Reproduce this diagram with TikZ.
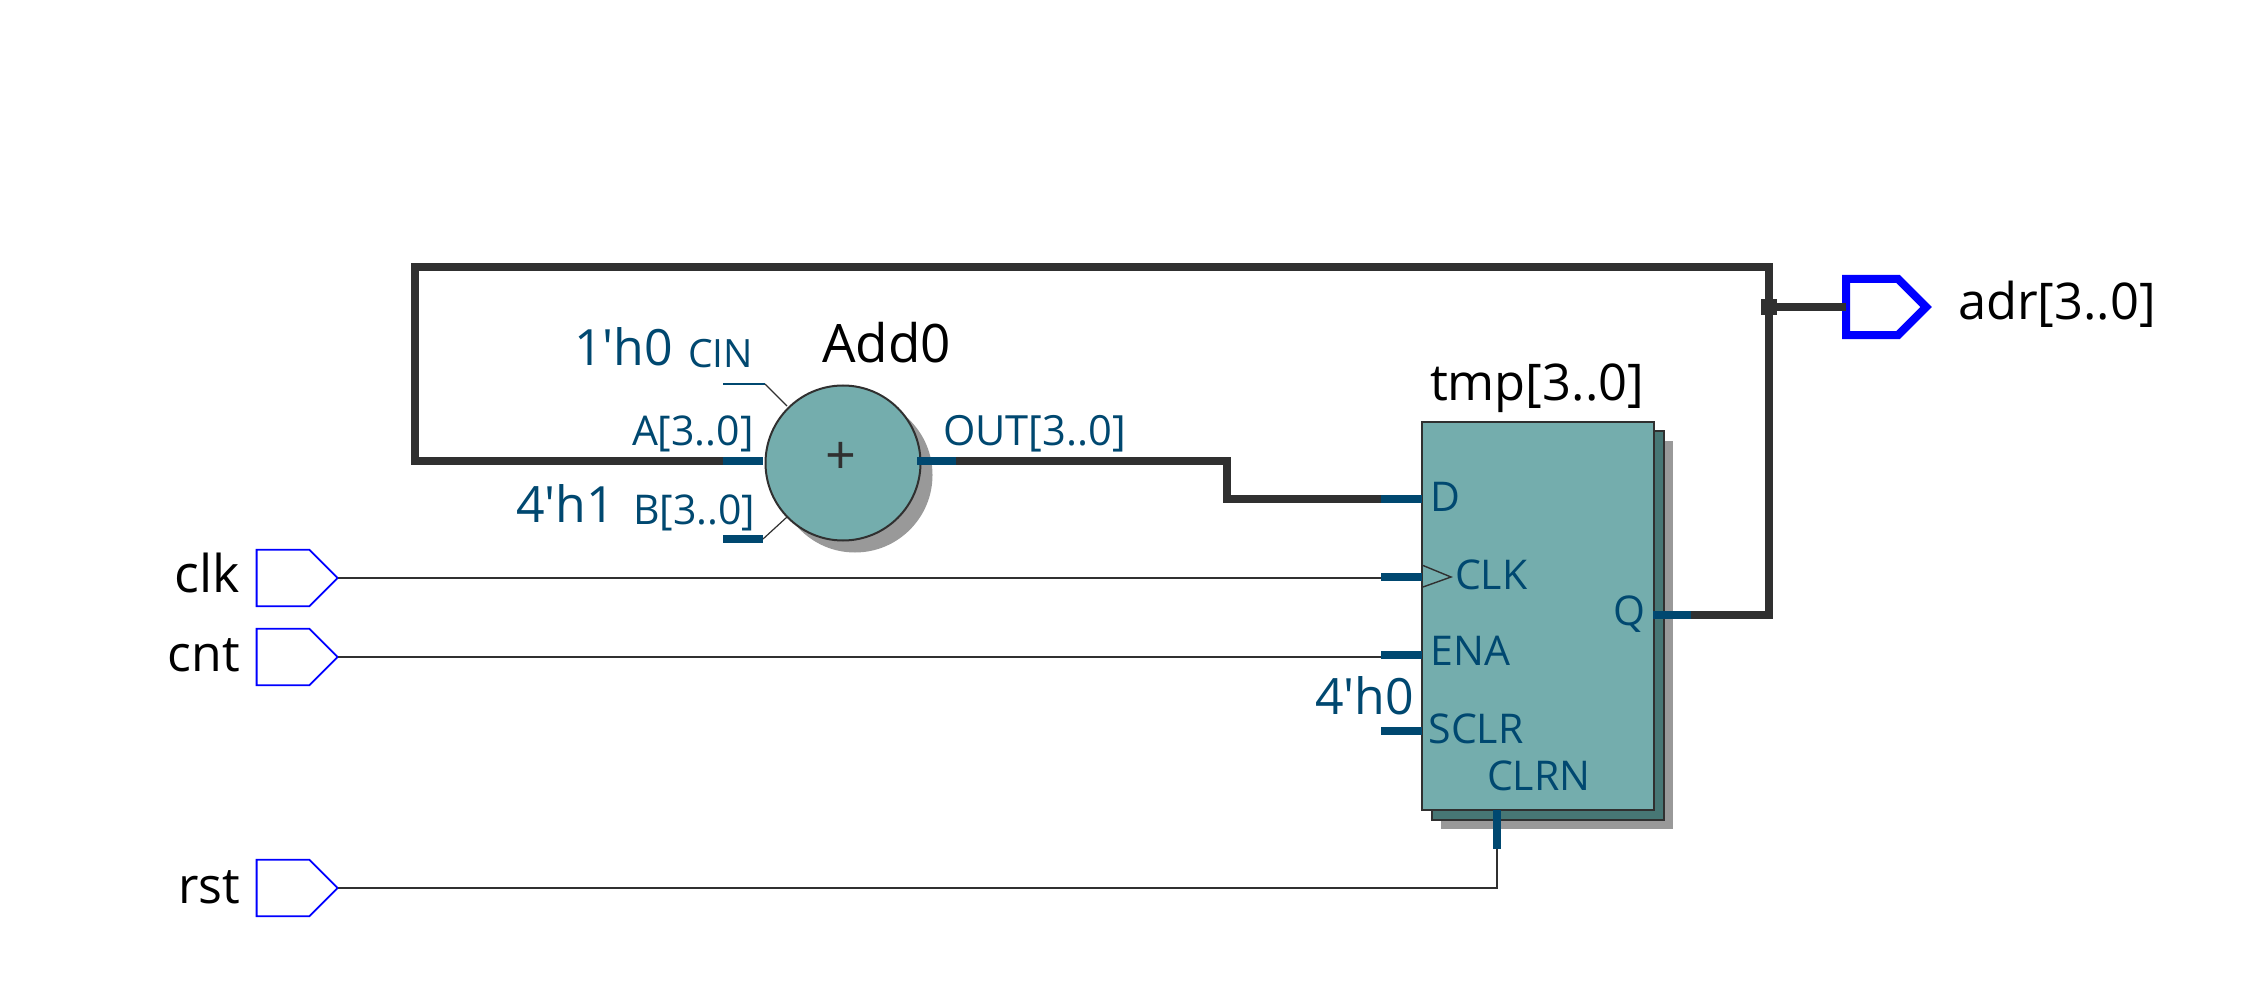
\documentclass[tikz,border=0pt]{standalone}
\usepackage{fontspec}
\setmainfont{Open Sans}
\usetikzlibrary{shapes.symbols,calc}
\definecolor{wirec}{HTML}{303030}
\definecolor{stubc}{HTML}{004870}
\definecolor{tealc}{HTML}{74ADAD}
\definecolor{tealb}{HTML}{477775}
\definecolor{shadc}{HTML}{999999}
\definecolor{pinc}{HTML}{0000FF}
\tikzset{
  x=0.5pt,y=-0.5pt,
  bigwire/.style={draw=wirec,line width=4pt,line join=miter},
  thinwire/.style={draw=wirec,line width=1pt},
  stub/.style={draw=stubc,line width=4pt},
  thinstub/.style={draw=stubc,line width=1pt},
  lbl/.style={inner sep=0pt,outer sep=0pt,anchor=base west,font=\fontsize{25pt}{30pt}\selectfont,text=black},
  constlbl/.style={lbl,text=stubc},
  portlbl/.style={lbl,text=stubc,font=\fontsize{20.5pt}{24pt}\selectfont},
  portshape/.style={shape=signal,signal to=east,signal from=nowhere,signal pointer angle=90,
    draw=pinc,fill=white,line width=#1,inner sep=0pt,outer sep=0pt,
    minimum width=40.5pt,minimum height=28.2pt,anchor=center},
  ffbox/.style={shape=rectangle,inner sep=0pt,outer sep=0pt,minimum width=116pt,minimum height=194pt},
  addcirc/.style={shape=circle,inner sep=0pt,outer sep=0pt,minimum size=77.5pt},
}
\begin{document}
\begin{tikzpicture}
\useasboundingbox (0,0) rectangle (2247,999);
\fill[white] (0,0) rectangle (2247,999);

% flip-flop
\node[ffbox,fill=shadc] (ffshadow) at (1557,635) {};
\node[ffbox,draw=wirec,line width=1pt,fill=tealb] (ffback) at (1548,625.5) {};
\node[ffbox,draw=wirec,line width=1pt,fill=tealc] (ff) at (1538,615.8) {};

% adder
\node[addcirc,fill=shadc] (addshadow) at (855,475) {};
\node[addcirc,draw=wirec,line width=1pt,fill=tealc] (add) at (843,463) {};
\node[inner sep=0pt,font=\fontsize{27pt}{30pt}\selectfont,text=wirec] (plus) at (841,458) {+};

% input / output ports
\node[portshape=0.9pt] (clk) at (283,578) {};
\node[portshape=0.9pt] (cnt) at (283,657) {};
\node[portshape=0.9pt] (rst) at (283,888) {};
\node[portshape=4pt,minimum width=40pt,minimum height=28.2pt] (adr) at (1872,307) {};

% anchor points
\coordinate (aS) at (723,461);
\coordinate (aE) at (763,461);
\coordinate (outS) at (917,461);
\coordinate (outE) at (956,461);
\coordinate (bS) at (723,539);
\coordinate (bE) at (763,539);
\coordinate (cinS) at (723,384);
\coordinate (cinE) at (765,384);
\coordinate (cinD) at (787,406);
\coordinate (bD) at (787,517);
\coordinate (dS) at (1381,498.7);
\coordinate (dE) at (1422,498.7);
\coordinate (clkS) at (1381,577);
\coordinate (clkE) at (1422,577);
\coordinate (enaS) at (1381,655);
\coordinate (enaE) at (1422,655);
\coordinate (sclrS) at (1381,731);
\coordinate (sclrE) at (1422,731);
\coordinate (qS) at (1653,614.8);
\coordinate (qE) at (1691,614.8);
\coordinate (clrnS) at (1497,810);
\coordinate (clrnE) at (1497,848.6);
\coordinate (jn) at (1769,306.7);

% wires
\draw[bigwire] (qE) -- (1769,614.8) -- (1769,266.7) -- (415,266.7) -- (415,461) -- (aS);
\draw[bigwire] (outE) -- (1227,461) -- (1227,498.7) -- (dS);
\draw[draw=wirec,line width=4pt] (jn) -- (jn -| adr.west);
\fill[wirec] ($(jn)+(-8,-8)$) rectangle ($(jn)+(8,8)$);
\draw[thinwire] (clk.east) -- (clk.east -| clkS);
\draw[thinwire] (cnt.east) -- (cnt.east -| enaS);
\draw[thinwire] (rst.east) -- (rst.east -| clrnE) -- (clrnE);

% stubs
\draw[stub] (aS) -- (aE);
\draw[stub] (outS) -- (outE);
\draw[stub] (bS) -- (bE);
\draw[stub] (dS) -- (dE);
\draw[stub] (clkS) -- (clkE);
\draw[stub] (enaS) -- (enaE);
\draw[stub] (sclrS) -- (sclrE);
\draw[stub] (qS) -- (qE);
\draw[stub] (clrnS) -- (clrnE);
\draw[thinstub] (cinS) -- (cinE);
\draw[draw=wirec,line width=0.6pt] (cinE) -- (cinD);
\draw[draw=wirec,line width=0.6pt] (bE) -- (bD);
\draw[draw=wirec,line width=0.7pt] (1423,565.5) -- (1451,577) -- (1423,587);

% labels
\node[lbl,font=\fontsize{26.5pt}{30pt}\selectfont] (tAdd) at (822,362.7) {Add0};
\node[constlbl] (tc1) at (574,366) {1\textquotesingle h0};
\node[portlbl,font=\fontsize{19.5pt}{22pt}\selectfont] (tcin) at (688,367.7) {CIN};
\node[portlbl] (ta) at (632,446) {A[3..0]};
\node[portlbl] (tb) at (633,524) {B[3..0]};
\node[constlbl] (tc2) at (516,522.7) {4\textquotesingle h1};
\node[portlbl,font=\fontsize{20.8pt}{24pt}\selectfont] (tout) at (943,446) {OUT[3..0]};
\node[portlbl] (td) at (1430.5,511.5) {D};
\node[portlbl] (tclk) at (1455,589.5) {CLK};
\node[portlbl] (tena) at (1430.5,665.5) {ENA};
\node[portlbl] (tsclr) at (1428.5,743) {SCLR};
\node[portlbl] (tclrn) at (1487,790.5) {CLRN};
\node[portlbl] (tq) at (1613,625.5) {Q};
\node[constlbl] (tc3) at (1315,714) {4\textquotesingle h0};
\node[lbl,font=\fontsize{25.3pt}{30pt}\selectfont] (ttmp) at (1430,401) {tmp[3..0]};
\node[lbl,font=\fontsize{25.3pt}{30pt}\selectfont] (tadr) at (1958,320) {adr[3..0]};
\node[lbl,anchor=base east,font=\fontsize{26pt}{30pt}\selectfont] (tclkn) at (240,592) {clk};
\node[lbl,anchor=base east] (tcntn) at (240,671) {cnt};
\node[lbl,anchor=base east] (trstn) at (240,903) {rst};
\end{tikzpicture}
\end{document}
